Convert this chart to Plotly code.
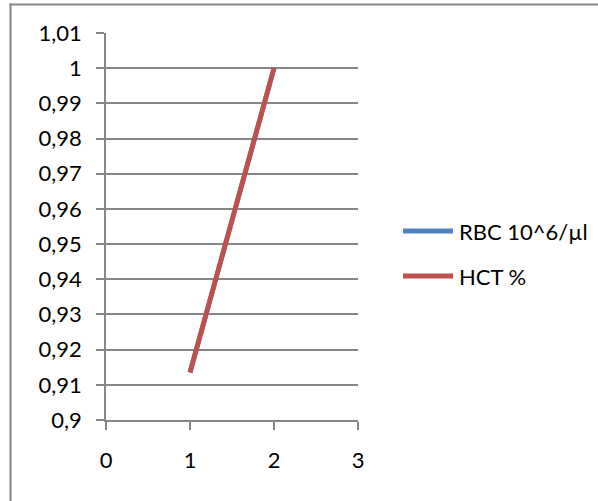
import plotly.graph_objects as go

# Series data
x_vals = [1, 2]
rbc = [0.9135, 1.0]
hct = [0.9135, 1.0]

series_names = ["RBC 10^6/µl", "HCT %"]
series_colors = ["#4F81BD", "#C0504D"]

# Axis ticks
y_ticks = [0.9, 0.91, 0.92, 0.93, 0.94, 0.95, 0.96, 0.97, 0.98, 0.99, 1.0, 1.01]
y_tick_labels = ["0,9", "0,91", "0,92", "0,93", "0,94", "0,95", "0,96",
                 "0,97", "0,98", "0,99", "1", "1,01"]
x_ticks = [0, 1, 2, 3]
x_tick_labels = ["0", "1", "2", "3"]

FONT = "Lato"
FSIZE = 22
GRID = "#868686"
LINE_W = 4.8

fig = go.Figure()
for name, ys, color in zip(series_names, [rbc, hct], series_colors):
    fig.add_trace(go.Scatter(
        x=x_vals, y=ys, mode="lines", name=name,
        line=dict(color=color, width=LINE_W),
        showlegend=False,
    ))

W, H = 598, 501
L, R, T, B = 106, 240, 33, 81
pw, ph = W - L - R, H - T - B


def px_x(p):
    return (p - L) / pw


def px_y(p):
    return (H - B - p) / ph


# Chart frame (top and left edges)
shapes = [
    dict(type="line", xref="paper", yref="paper",
         x0=px_x(9.5), x1=px_x(W), y0=px_y(4.5), y1=px_y(4.5),
         line=dict(color=GRID, width=2), layer="below"),
    dict(type="line", xref="paper", yref="paper",
         x0=px_x(10.5), x1=px_x(10.5), y0=px_y(H), y1=px_y(3.5),
         line=dict(color=GRID, width=2), layer="below"),
]
annotations = []

# Legend entries: sample line plus label
legend_rows = [231, 276]
for name, color, row in zip(series_names, series_colors, legend_rows):
    shapes.append(dict(
        type="line", xref="paper", yref="paper",
        x0=px_x(403), x1=px_x(453), y0=px_y(row), y1=px_y(row),
        line=dict(color=color, width=LINE_W),
    ))
    annotations.append(dict(
        xref="paper", yref="paper", x=px_x(457), y=px_y(row),
        xanchor="left", yanchor="middle", showarrow=False,
        text=name, font=dict(family=FONT, size=FSIZE, color="#000000"),
    ))

fig.update_layout(
    width=W, height=H,
    margin=dict(l=L, r=R, t=T, b=B),
    paper_bgcolor="white", plot_bgcolor="white",
    font=dict(family=FONT, size=FSIZE, color="#000000"),
    showlegend=False,
    xaxis=dict(
        range=[0, 3], tickvals=x_ticks, ticktext=x_tick_labels,
        showgrid=False, zeroline=False,
        showline=True, linecolor=GRID, linewidth=1.5,
        ticks="outside", ticklen=8, tickcolor=GRID, tickwidth=1.5,
        ticklabelstandoff=12,
        fixedrange=True,
    ),
    yaxis=dict(
        range=[0.9, 1.01], tickvals=y_ticks, ticktext=y_tick_labels,
        showgrid=True, gridcolor=GRID, gridwidth=1.5, zeroline=False,
        showline=True, linecolor=GRID, linewidth=1.5,
        ticks="outside", ticklen=8, tickcolor=GRID, tickwidth=1.5,
        ticklabelstandoff=10,
        fixedrange=True,
    ),
    shapes=shapes,
    annotations=annotations,
)

fig.write_html("out.html")
